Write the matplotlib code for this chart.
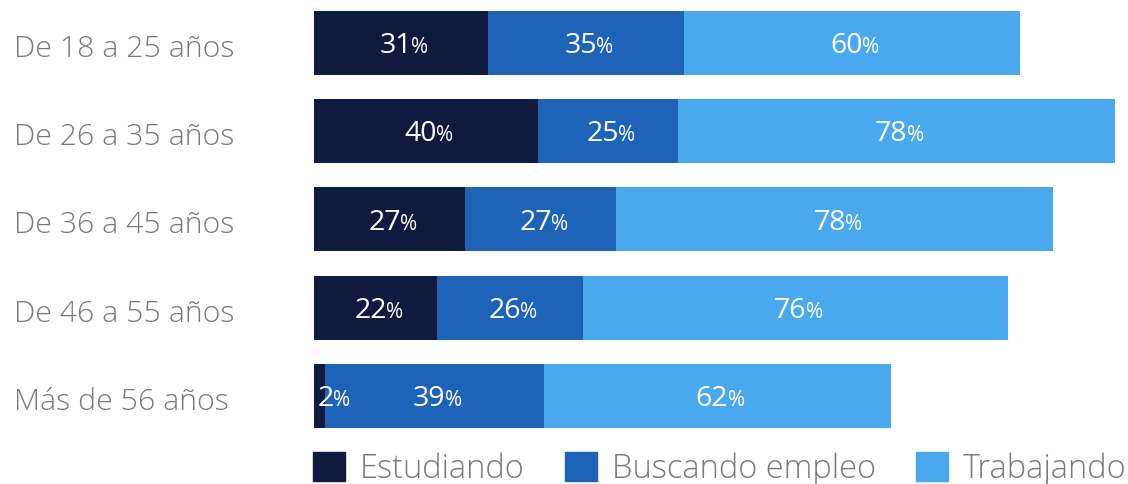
import numpy as np
import matplotlib.pyplot as plt
from matplotlib.patches import Patch

plt.rcParams['font.family'] = ['Open Sans', 'DejaVu Sans']

grupos = ['De 18 a 25 años', 'De 26 a 35 años', 'De 36 a 45 años',
          'De 46 a 55 años', 'Más de 56 años']
estudiando = [31, 40, 27, 22, 2]
buscando = [35, 25, 27, 26, 39]
trabajando = [60, 78, 78, 76, 62]
series = ['Estudiando', 'Buscando empleo', 'Trabajando']
colores = ['#0F1A3E', '#1D63B8', '#4AA9EE']

fig = plt.figure(figsize=(11.28, 4.84), dpi=100)
ax = fig.add_axes([314 / 1128, 44 / 484, 812 / 1128, 440 / 484])

y = np.arange(len(grupos))
izq = np.zeros(len(grupos))
for vals, col in zip([estudiando, buscando, trabajando], colores):
    vals = np.array(vals)
    ax.barh(y, vals, left=izq, height=0.725, color=col)
    for yi, l, v in zip(y, izq, vals):
        if v < 5:
            x0, dx = l, 14
        else:
            x0, dx = l + v / 2, 8
        ax.annotate(str(v), (x0, yi), xytext=(dx, -7.4), textcoords='offset points',
                    ha='right', va='baseline', color='white', fontsize=20.5,
                    fontweight='medium')
        ax.annotate('%', (x0, yi), xytext=(dx - 0.5, -7.4), textcoords='offset points',
                    ha='left', va='baseline', color='white', fontsize=15)
    izq = izq + vals

ax.set_xlim(0, 145)
ax.set_ylim(4.5, -0.487)
ax.axis('off')

for yi, g in zip(y, grupos):
    ax.annotate(g, (-300 / 812, yi), xycoords=ax.get_yaxis_transform(),
                xytext=(0, -10), textcoords='offset points', ha='left',
                va='baseline', fontsize=21.8, color='#7a7a7a', fontweight='light')

handles = [Patch(color=c) for c in colores]
leg = fig.legend(handles, series, loc='upper left', bbox_to_anchor=(310 / 1128, 1 - 449 / 484),
                 ncol=3, frameon=False, fontsize=23.5, handlelength=0.97, handleheight=0.95,
                 handletextpad=0.45, columnspacing=1.25, borderaxespad=0,
                 borderpad=0.1)
for t in leg.get_texts():
    t.set_color('#7a7a7a')
    t.set_fontweight('light')

fig.savefig('out.png', dpi=100)
